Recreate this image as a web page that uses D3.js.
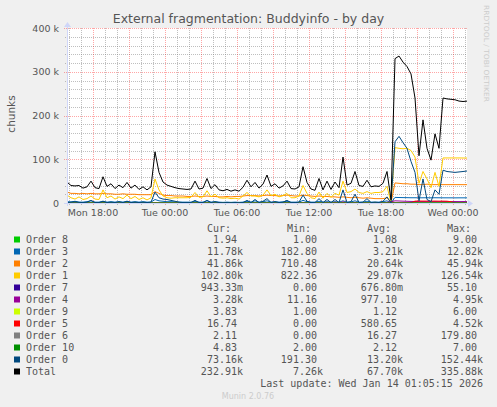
<!DOCTYPE html>
<html>
<head>
<meta charset="utf-8">
<script src="https://cdn.jsdelivr.net/npm/d3@7"></script>
<style>
  body { margin: 0; background: #f0f0f0; }
  svg { display: block; }
</style>
</head>
<body>
<div id="chart"></div>
<script>
// time axis: one sample every 20 minutes, Mon 15:50 -> Wed 01:10
const startTime = new Date(2026, 0, 12, 15, 50);
const endTime = new Date(2026, 0, 14, 1, 10);
const stepMinutes = 20;

const xTickTimes = [
  new Date(2026, 0, 12, 18), new Date(2026, 0, 13, 0), new Date(2026, 0, 13, 6),
  new Date(2026, 0, 13, 12), new Date(2026, 0, 13, 18), new Date(2026, 0, 14, 0)
];
const xTickLabels = ["Mon 18:00", "Tue 00:00", "Tue 06:00", "Tue 12:00", "Tue 18:00", "Wed 00:00"];
const yTickValues = [0, 100000, 200000, 300000, 400000];
const yTickLabels = ["0", "100 k", "200 k", "300 k", "400 k"];

// big series, in thousands of chunks
const order3K = [
  3, 2.5, 4, 2, 2, 3, 5, 2, 2, 4,
  2, 3, 2, 3, 2, 4, 2, 3, 2, 3,
  2, 2, 8, 5, 4, 3, 3, 2.5, 2, 2,
  2, 2, 4, 2, 2, 5, 2, 3, 2, 1.5,
  2, 1.5, 2, 1.5, 2, 4, 2, 5, 2, 3,
  5, 2, 3, 2, 2.5, 4, 2, 2, 2, 6,
  3, 2, 2, 4, 2, 3, 2, 3, 2, 5,
  2, 2.5, 5, 2, 2, 4, 2, 2, 2, 3,
  5, 0.18, 12.8, 12.5, 12.3, 12.2, 12, 12, 11.8, 11.9,
  12, 11.8, 12, 11.9, 11.8, 11.8, 11.8, 11.7, 11.8, 11.8,
  11.78
];
const order2K = [
  25, 22, 22, 21, 22, 21, 22, 21, 21, 22,
  21, 21, 20, 20, 21, 20, 20, 20, 19, 19,
  19, 19, 26, 22, 18, 17, 17, 16, 16, 16,
  15, 15, 16, 15, 15, 16, 15, 15, 14, 14,
  15, 14, 15, 15, 16, 17, 17, 17, 16, 17,
  18, 17, 17, 16, 17, 18, 17, 16, 16, 18,
  17, 16, 15, 16, 15, 15, 14, 14, 13, 14,
  13, 12, 13, 12, 11, 12, 11, 10, 10, 10,
  12, 0.71, 45.9, 45, 44, 44, 43, 43, 42, 42,
  43, 42, 42, 42, 42, 42, 42, 42, 42, 41.9,
  41.86
];
const order1K = [
  18, 12, 9, 14, 8, 10, 16, 9, 8, 30,
  12, 16, 9, 14, 10, 18, 10, 15, 8, 12,
  7, 12, 55, 30, 16, 12, 11, 12, 12, 12,
  12, 13, 24, 13, 14, 28, 14, 20, 12, 11,
  12, 10, 11, 9, 16, 24, 16, 16, 14, 18,
  30, 17, 20, 14, 17, 22, 12, 12, 16, 40,
  22, 12, 10, 25, 11, 22, 13, 22, 18, 50,
  24, 26, 32, 24, 22, 26, 22, 24, 24, 26,
  38, 0.82, 126.5, 125, 124, 125, 120, 105, 45, 72,
  55, 35, 70, 38, 103, 103, 103, 103, 103, 102.8,
  102.8
];
const order4K = [
  0.6, 0.5, 0.6, 0.5, 0.5, 0.6, 0.8, 0.5, 0.5, 0.7,
  0.5, 0.6, 0.5, 0.6, 0.5, 0.7, 0.5, 0.6, 0.4, 0.5,
  0.4, 0.5, 1.2, 0.8, 0.6, 0.5, 0.5, 0.4, 0.4, 0.4,
  0.4, 0.4, 0.6, 0.4, 0.4, 0.7, 0.4, 0.5, 0.3, 0.3,
  0.4, 0.3, 0.4, 0.3, 0.4, 0.7, 0.4, 0.8, 0.4, 0.6,
  0.9, 0.4, 0.6, 0.4, 0.5, 0.8, 0.4, 0.4, 0.5, 1.4,
  0.6, 0.4, 0.3, 1.0, 0.4, 1.5, 0.4, 1.8, 0.5, 2.4,
  0.5, 0.6, 1.6, 0.5, 0.5, 1.0, 0.4, 0.5, 0.4, 0.8,
  1.5, 2.6, 4.95, 4.6, 4.2, 3.9, 3.6, 3.4, 3.2, 3.3,
  3.2, 3.3, 3.3, 3.2, 3.3, 3.3, 3.3, 3.3, 3.2, 3.3,
  3.28
];
const order5K = [
  0.1, 0.1, 0.2, 0.1, 0.1, 0.1, 0.2, 0.1, 0.1, 0.2,
  0.1, 0.1, 0.1, 0.2, 0.1, 0.2, 0.1, 0.1, 0.1, 0.1,
  0.1, 0.1, 0.4, 0.2, 0.1, 0.1, 0.1, 0.1, 0.1, 0.1,
  0.1, 0.1, 0.2, 0.1, 0.1, 0.2, 0.1, 0.1, 0.1, 0.05,
  0.1, 0.05, 0.1, 0.05, 0.1, 0.2, 0.1, 0.3, 0.1, 0.2,
  0.3, 0.1, 0.2, 0.1, 0.1, 0.3, 0.1, 0.1, 0.1, 0.6,
  0.2, 0.1, 0.1, 0.5, 0.1, 0.9, 0.1, 1.2, 0.2, 1.6,
  0.2, 0.3, 0.8, 0.1, 0.2, 0.5, 0.1, 0.2, 0.1, 0.3,
  0.6, 2.0, 0.4, 0.3, 0.3, 0.3, 0.4, 4.3, 4.52, 4.4,
  4.4, 4.3, 4.4, 4.2, 4.3, 4.1, 3.0, 0.05, 0.03, 0.02,
  0.017
];
const order0K = [
  1, 2, 3, 1.5, 1, 2, 6, 1, 1, 4,
  1, 2, 1, 3, 1, 4, 1, 2, 1, 2,
  1, 2, 25, 12, 9, 8, 6, 4, 2, 1,
  1, 1, 6, 1, 1, 6, 1, 3, 1, 0.5,
  1, 0.5, 1, 0.5, 1, 6, 1, 8, 1, 4,
  10, 1, 3, 1, 2, 6, 1, 1, 2, 18,
  4, 1, 1, 10, 1, 8, 1, 8, 1, 30,
  1, 3, 20, 1, 2, 10, 1, 2, 1, 4,
  14, 0.19, 140, 152.4, 138, 125, 95, 70, 5, 55,
  8, 3, 30, 20, 75, 72, 71, 70, 71, 72,
  73.16
];
const totalK = [
  48, 40, 39, 40, 34, 37, 50, 35, 33, 60,
  38, 44, 33, 41, 35, 47, 34, 41, 31, 37,
  30, 37, 117, 70, 48, 41, 38, 35, 33, 32,
  31, 32, 50, 32, 34, 56, 33, 42, 30, 28,
  31, 27, 30, 27, 36, 52, 37, 47, 34, 43,
  64, 38, 44, 34, 39, 50, 33, 32, 37, 83,
  47, 32, 29, 56, 30, 50, 31, 48, 35, 105,
  41, 45, 72, 40, 38, 52, 37, 39, 38, 45,
  72, 7.26, 330, 335.9, 322, 312, 295, 240, 108, 190,
  125, 98, 158, 125, 240, 238, 237, 236, 233, 232,
  232.91
];

// small series, in chunks (they sit on the zero line)
const order8 = [
  1, 1, 1, 1, 1, 1, 1, 1, 1, 1,
  1, 1, 1, 1, 1, 1, 1, 1, 1, 1,
  1, 1, 2, 1, 1, 1, 1, 1, 1, 1,
  1, 1, 1, 1, 1, 1, 1, 1, 1, 1,
  1, 1, 1, 1, 1, 1, 1, 1, 1, 1,
  1, 1, 1, 1, 1, 1, 1, 1, 1, 1,
  1, 1, 1, 1, 1, 1, 1, 1, 1, 1,
  1, 1, 1, 1, 1, 1, 1, 1, 1, 1,
  1, 1, 9, 3, 2, 1.5, 1.2, 1, 1, 1,
  1, 1, 1, 1, 1, 1.2, 1.5, 1.8, 1.9, 1.94,
  1.94
];
const order7 = [
  0.5, 0.4, 0.6, 0.4, 0.4, 0.5, 0.7, 0.4, 0.4, 0.6,
  0.4, 0.5, 0.4, 0.5, 0.4, 0.6, 0.4, 0.5, 0.3, 0.4,
  0.3, 0.4, 1.5, 0.8, 0.6, 0.5, 0.4, 0.4, 0.3, 0.3,
  0.3, 0.3, 0.5, 0.3, 0.3, 0.6, 0.3, 0.4, 0.2, 0.2,
  0.3, 0.2, 0.3, 0.2, 0.3, 0.6, 0.3, 0.7, 0.3, 0.5,
  0.8, 0.3, 0.5, 0.3, 0.4, 0.7, 0.3, 0.3, 0.4, 1.2,
  0.5, 0.3, 0.2, 0.8, 0.3, 1.0, 0.3, 1.1, 0.4, 2.0,
  0.4, 0.5, 1.2, 0.4, 0.4, 0.8, 0.3, 0.4, 0.3, 0.6,
  1.0, 0, 55.1, 6, 2, 1.5, 1.2, 1, 0.9, 1,
  0.9, 0.9, 1, 0.9, 0.95, 0.95, 0.94, 0.94, 0.94, 0.94,
  0.943
];
const order9 = [
  1, 1, 1, 1, 1, 1, 1, 1, 1, 1,
  1, 1, 1, 1, 1, 1, 1, 1, 1, 1,
  1, 1, 1.5, 1, 1, 1, 1, 1, 1, 1,
  1, 1, 1, 1, 1, 1, 1, 1, 1, 1,
  1, 1, 1, 1, 1, 1, 1, 1, 1, 1,
  1, 1, 1, 1, 1, 1, 1, 1, 1, 1,
  1, 1, 1, 1, 1, 1, 1, 1, 1, 1,
  1, 1, 1, 1, 1, 1, 1, 1, 1, 1,
  1, 1, 6, 3, 2, 1.5, 1.2, 1, 1, 1,
  1, 1, 1, 1, 2, 2.5, 3, 3.5, 3.8, 3.83,
  3.83
];
const order6 = [
  8, 6, 10, 5, 5, 7, 14, 5, 4, 12,
  5, 7, 4, 8, 5, 10, 4, 7, 3, 6,
  3, 5, 60, 25, 15, 10, 8, 6, 4, 3,
  3, 3, 10, 3, 3, 12, 3, 6, 2, 2,
  3, 2, 3, 2, 4, 12, 4, 14, 4, 8,
  16, 4, 8, 4, 6, 14, 4, 3, 5, 30,
  8, 3, 2, 16, 3, 14, 3, 16, 4, 45,
  4, 6, 26, 4, 4, 14, 3, 4, 3, 8,
  18, 0, 179.8, 120, 90, 70, 40, 30, 8, 20,
  6, 3, 10, 6, 4, 3, 2.5, 2.2, 2.1, 2.1,
  2.11
];
const order10 = [
  2, 2, 2, 2, 2, 2, 2, 2, 2, 2,
  2, 2, 2, 2, 2, 2, 2, 2, 2, 2,
  2, 2, 2, 2, 2, 2, 2, 2, 2, 2,
  2, 2, 2, 2, 2, 2, 2, 2, 2, 2,
  2, 2, 2, 2, 2, 2, 2, 2, 2, 2,
  2, 2, 2, 2, 2, 2, 2, 2, 2, 2,
  2, 2, 2, 2, 2, 2, 2, 2, 2, 2,
  2, 2, 2, 2, 2, 2, 2, 2, 2, 2,
  2, 2, 7, 4, 3, 2.5, 2, 2, 2, 2,
  2, 2, 2, 2, 3, 4, 4.5, 4.8, 4.83, 4.83,
  4.83
];

// legend, in Munin drawing order
const seriesNames = ["Order 8", "Order 3", "Order 2", "Order 1", "Order 7", "Order 4",
  "Order 9", "Order 5", "Order 6", "Order 10", "Order 0", "Total"];
const seriesColors = ["#00CC00", "#0066B3", "#FF8000", "#FFCC00", "#330099", "#990099",
  "#CCFF00", "#FF0000", "#808080", "#008F00", "#00487D", "#000000"];
const legendCur = ["1.94 ", "11.78k", "41.86k", "102.80k", "943.33m", "3.28k",
  "3.83 ", "16.74 ", "2.11 ", "4.83 ", "73.16k", "232.91k"];
const legendMin = ["1.00 ", "182.80 ", "710.48 ", "822.36 ", "0.00 ", "11.16 ",
  "1.00 ", "0.00 ", "0.00 ", "2.00 ", "191.30 ", "7.26k"];
const legendAvg = ["1.08 ", "3.21k", "20.64k", "29.07k", "676.80m", "977.10 ",
  "1.12 ", "580.65 ", "16.27 ", "2.12 ", "13.20k", "67.70k"];
const legendMax = ["9.00 ", "12.82k", "45.94k", "126.54k", "55.10 ", "4.95k",
  "6.00 ", "4.52k", "179.80 ", "7.00 ", "152.44k", "335.88k"];
const lastUpdate = "Last update: Wed Jan 14 01:05:15 2026";

const kilo = arr => arr.map(v => v * 1000);
const seriesValues = [order8, kilo(order3K), kilo(order2K), kilo(order1K), order7, kilo(order4K),
  order9, kilo(order5K), order6, order10, kilo(order0K), kilo(totalK)];

const W = 497, H = 407;
const plot = { left: 67, right: 467, top: 28, bottom: 203 };
const fontColor = "#555";
const gridMinor = "rgba(128,128,128,0.5)";
const gridMajor = "rgba(255,0,0,0.35)";
const axisColor = "#CFD6F8";

const svg = d3.select("#chart").append("svg")
  .attr("width", W).attr("height", H)
  .style("font-family", "'DejaVu Sans', sans-serif");

svg.append("rect").attr("width", W).attr("height", H).attr("fill", "#f0f0f0");
svg.append("rect")
  .attr("x", plot.left).attr("y", plot.top)
  .attr("width", plot.right - plot.left).attr("height", plot.bottom - plot.top)
  .attr("fill", "#fff");

const x = d3.scaleTime().domain([startTime, endTime]).range([plot.left, plot.right]);
const y = d3.scaleLinear().domain([0, 400000]).range([plot.bottom, plot.top]);
const timeAt = i => d3.timeMinute.offset(startTime, i * stepMinutes);

// grid
const grid = svg.append("g").attr("shape-rendering", "crispEdges");
const majorHours = d3.timeHour.every(3).range(startTime, endTime);
const minorHours = d3.timeHour.range(startTime, endTime)
  .filter(t => t.getHours() % 3 !== 0);
const minorY = y.ticks(20).filter(v => v % 100000 !== 0);

grid.selectAll(".vmin").data(minorHours).join("line")
  .attr("x1", d => Math.round(x(d)) + 0.5).attr("x2", d => Math.round(x(d)) + 0.5)
  .attr("y1", plot.top).attr("y2", plot.bottom + 2)
  .attr("stroke", gridMinor).attr("stroke-dasharray", "1,1");
grid.selectAll(".hmin").data(minorY).join("line")
  .attr("x1", plot.left - 2).attr("x2", plot.right)
  .attr("y1", d => Math.round(y(d)) + 0.5).attr("y2", d => Math.round(y(d)) + 0.5)
  .attr("stroke", gridMinor).attr("stroke-dasharray", "1,1");
grid.selectAll(".vmaj").data(majorHours).join("line")
  .attr("x1", d => Math.round(x(d)) + 0.5).attr("x2", d => Math.round(x(d)) + 0.5)
  .attr("y1", plot.top).attr("y2", plot.bottom + 3)
  .attr("stroke", gridMajor).attr("stroke-dasharray", "1,1");
grid.selectAll(".hmaj").data(yTickValues.filter(v => v > 0)).join("line")
  .attr("x1", plot.left - 3).attr("x2", plot.right)
  .attr("y1", d => Math.round(y(d)) + 0.5).attr("y2", d => Math.round(y(d)) + 0.5)
  .attr("stroke", gridMajor).attr("stroke-dasharray", "1,1");

// series lines
svg.append("clipPath").attr("id", "clip").append("rect")
  .attr("x", plot.left).attr("y", plot.top - 1)
  .attr("width", plot.right - plot.left + 1).attr("height", plot.bottom - plot.top + 1);

const line = d3.line()
  .x((d, i) => x(timeAt(i)))
  .y(d => y(d));

svg.append("g").attr("clip-path", "url(#clip)")
  .selectAll("path").data(seriesValues).join("path")
  .attr("d", d => line(d))
  .attr("fill", "none")
  .attr("stroke", (d, i) => seriesColors[i])
  .attr("stroke-width", 1);

// axes
const axes = svg.append("g").attr("fill", axisColor).attr("stroke", axisColor);
axes.append("line").attr("shape-rendering", "crispEdges")
  .attr("x1", plot.left - 3).attr("x2", plot.right + 2)
  .attr("y1", plot.bottom + 0.5).attr("y2", plot.bottom + 0.5);
axes.append("line").attr("shape-rendering", "crispEdges")
  .attr("x1", plot.left + 0.5).attr("x2", plot.left + 0.5)
  .attr("y1", plot.bottom + 3).attr("y2", plot.top - 2);
axes.append("path").attr("stroke", "none")
  .attr("d", `M${plot.right + 1},${plot.bottom - 3}L${plot.right + 6},${plot.bottom + 0.5}L${plot.right + 1},${plot.bottom + 4}Z`);
axes.append("path").attr("stroke", "none")
  .attr("d", `M${plot.left - 3},${plot.top - 1}L${plot.left + 0.5},${plot.top - 6}L${plot.left + 4},${plot.top - 1}Z`);

// tick labels
svg.append("g").selectAll("text").data(yTickValues).join("text")
  .attr("x", 59).attr("y", d => y(d) + 3.5)
  .attr("text-anchor", "end").attr("font-size", 9.5).attr("fill", fontColor)
  .text((d, i) => yTickLabels[i]);

svg.append("g").selectAll("text").data(xTickTimes).join("text")
  .attr("x", d => x(d)).attr("y", 216)
  .attr("text-anchor", "middle").attr("font-size", 9.5).attr("fill", fontColor)
  .text((d, i) => xTickLabels[i]);

// titles
svg.append("text").attr("x", 248.5).attr("y", 23)
  .attr("text-anchor", "middle").attr("font-size", 12.5).attr("fill", fontColor)
  .text("External fragmentation: Buddyinfo - by day");

svg.append("text").attr("transform", "translate(15,114) rotate(-90)")
  .attr("text-anchor", "middle").attr("font-size", 10.5).attr("fill", fontColor)
  .text("chunks");

svg.append("text").attr("transform", "translate(484,5) rotate(90)")
  .attr("font-size", 7).attr("fill", "#cccccc")
  .attr("textLength", 97).attr("lengthAdjust", "spacingAndGlyphs")
  .text("RRDTOOL / TOBI OETIKER");

// legend
const legend = svg.append("g")
  .style("font-family", "'DejaVu Sans Mono', monospace")
  .attr("font-size", 10).attr("fill", fontColor);
const cols = [243, 323, 403, 483];
const heads = ["Cur:", "Min:", "Avg:", "Max:"];
const nb = s => s.replace(/ $/, "\u00A0");

legend.selectAll(".head").data(heads).join("text")
  .attr("x", (d, i) => cols[i] - 12).attr("y", 232)
  .attr("text-anchor", "end").text(d => d);

const rows = legend.selectAll(".row").data(seriesNames).join("g")
  .attr("transform", (d, i) => `translate(0,${243 + i * 12})`);
rows.append("rect")
  .attr("x", 14).attr("y", -6.5).attr("width", 6).attr("height", 6)
  .attr("fill", (d, i) => seriesColors[i]);
rows.append("text").attr("x", 26).attr("y", 0).text(d => d);
[legendCur, legendMin, legendAvg, legendMax].forEach((col, c) => {
  rows.append("text")
    .attr("x", cols[c]).attr("y", 0).attr("text-anchor", "end")
    .style("white-space", "pre")
    .text((d, i) => nb(col[i]));
});

legend.append("text").attr("x", 483).attr("y", 387)
  .attr("text-anchor", "end").text(lastUpdate);

svg.append("text").attr("x", 248).attr("y", 399)
  .attr("text-anchor", "middle").attr("font-size", 8).attr("fill", "#cccccc")
  .text("Munin 2.0.76");
</script>
</body>
</html>
